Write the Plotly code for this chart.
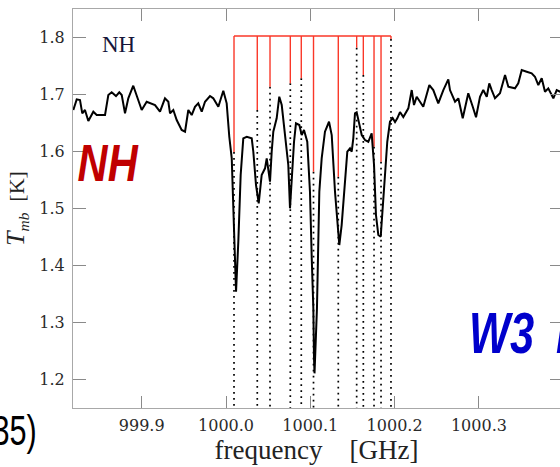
import plotly.graph_objects as go

# Observed NH absorption spectrum (main-beam temperature vs sky frequency)
freq_ghz = [
    999.8189, 999.8229, 999.8268, 999.8295, 999.8327, 999.8367, 999.8426, 999.8466,
    999.8565, 999.8604, 999.8644, 999.8695, 999.8734, 999.8763, 999.8802, 999.8841,
    999.8900, 999.8941, 999.9000, 999.9059, 999.9098, 999.9158, 999.9217, 999.9276,
    999.9316, 999.9336, 999.9375, 999.9415, 999.9474, 999.9514, 999.9553, 999.9593,
    999.9632, 999.9671, 999.9712, 999.9751, 999.9810, 999.9849, 999.9909, 999.9968,
    1000.0008, 1000.0039, 1000.0068, 1000.0087, 1000.0095, 1000.0119, 1000.0146, 1000.0174,
    1000.0205, 1000.0246, 1000.0305, 1000.0324, 1000.0356, 1000.0388, 1000.0423, 1000.0463,
    1000.0483, 1000.0522, 1000.0542, 1000.0561, 1000.0601, 1000.0632, 1000.0661, 1000.0700,
    1000.0739, 1000.0759, 1000.0779, 1000.0807, 1000.0830, 1000.0870, 1000.0898, 1000.0925,
    1000.0964, 1000.0996, 1000.1017, 1000.1036, 1000.1044, 1000.1050, 1000.1079, 1000.1091,
    1000.1107, 1000.1135, 1000.1174, 1000.1222, 1000.1254, 1000.1293, 1000.1332, 1000.1344,
    1000.1372, 1000.1412, 1000.1439, 1000.1471, 1000.1491, 1000.1510, 1000.1530, 1000.1550,
    1000.1581, 1000.1610, 1000.1649, 1000.1688, 1000.1728, 1000.1756, 1000.1779, 1000.1807,
    1000.1835, 1000.1859, 1000.1886, 1000.1913, 1000.1945, 1000.1977, 1000.2005, 1000.2032,
    1000.2064, 1000.2103, 1000.2163, 1000.2203, 1000.2230, 1000.2262, 1000.2340, 1000.2412,
    1000.2459, 1000.2518, 1000.2578, 1000.2637, 1000.2657, 1000.2717, 1000.2756, 1000.2808,
    1000.2874, 1000.2927, 1000.2966, 1000.3013, 1000.3052, 1000.3093, 1000.3123, 1000.3152,
    1000.3191, 1000.3250, 1000.3310, 1000.3349, 1000.3428, 1000.3467, 1000.3508, 1000.3567,
    1000.3626, 1000.3665, 1000.3705, 1000.3745, 1000.3784, 1000.3823, 1000.3883, 1000.3923,
    1000.3962, 1000.4000,
]
t_mb_k = [
    1.6732, 1.6919, 1.6907, 1.6674, 1.6732, 1.6539, 1.6702, 1.6644,
    1.6644, 1.6995, 1.7042, 1.6977, 1.7042, 1.6995, 1.6674, 1.6937,
    1.7158, 1.6995, 1.6732, 1.6877, 1.6849, 1.6819, 1.6702, 1.6937,
    1.6877, 1.6674, 1.6732, 1.6556, 1.6381, 1.6351, 1.6732, 1.6644,
    1.6789, 1.6849, 1.6702, 1.6877, 1.6977, 1.6937, 1.6789, 1.7070,
    1.6849, 1.6263, 1.5884, 1.5007, 1.4421, 1.3544, 1.4421, 1.5591,
    1.6235, 1.6263, 1.6235, 1.6000, 1.5416, 1.5095, 1.5591, 1.5709,
    1.5884, 1.5474, 1.6000, 1.6351, 1.6586, 1.6965, 1.6819, 1.6293,
    1.5767, 1.5007, 1.5533, 1.6175, 1.6498, 1.6468, 1.6293, 1.6381,
    1.6175, 1.5298, 1.4130, 1.3253, 1.2375, 1.2112, 1.3253, 1.4130,
    1.5298, 1.5884, 1.6351, 1.6526, 1.6293, 1.5298, 1.4596, 1.4363,
    1.4714, 1.5591, 1.6000, 1.6060, 1.6000, 1.6235, 1.6674, 1.6691,
    1.6468, 1.6293, 1.6205, 1.6175, 1.6323, 1.5767, 1.4890, 1.4539,
    1.4509, 1.4947, 1.5591, 1.6175, 1.6526, 1.6591, 1.6521, 1.6586,
    1.6696, 1.6609, 1.6761, 1.7082, 1.6819, 1.6965, 1.6789, 1.7170,
    1.7082, 1.6849, 1.7082, 1.7270, 1.7082, 1.6877, 1.6937, 1.6586,
    1.7025, 1.6789, 1.6604, 1.6965, 1.7082, 1.6965, 1.7200, 1.7082,
    1.6937, 1.7025, 1.7346, 1.7140, 1.7112, 1.7200, 1.7433, 1.7404,
    1.7375, 1.7316, 1.7170, 1.7288, 1.7053, 1.7112, 1.6937, 1.7082,
    1.7053, 1.7060,
]

# Hyperfine components: line frequencies and the level each stick reaches
hfs_freq_ghz = [
    1000.0095, 1000.0371, 1000.0522, 1000.0763, 1000.0893, 1000.1038,
    1000.1332, 1000.1550, 1000.1629, 1000.1756, 1000.1839, 1000.1957,
]
hfs_level_k = [
    1.5995, 1.6732, 1.7140, 1.7200, 1.7288, 1.5649,
    1.5561, 1.7825, 1.7346, 1.6088, 1.5825, 1.7977,
]
hfs_top_k = 1.803

x_range = [999.8185, 1000.3962]
y_range = [1.1504, 1.8504]
x_ticks = [999.9, 1000.0, 1000.1, 1000.2, 1000.3]
x_tick_text = ["999.9", "1000.0", "1000.1", "1000.2", "1000.3"]
y_ticks = [1.2, 1.3, 1.4, 1.5, 1.6, 1.7, 1.8]
y_tick_text = ["1.2", "1.3", "1.4", "1.5", "1.6", "1.7", "1.8"]

RED = "rgb(250,55,40)"
AXIS_GREY = "#a8a8a8"
SERIF = "DejaVu Serif, serif"
TITLE_SERIF = "Liberation Serif, Times New Roman, serif"
SANS = "Liberation Sans, Arial, sans-serif"

fig = go.Figure()

# dotted guides from each stick down to the bottom axis
dot_x, dot_y = [], []
for f, lv in zip(hfs_freq_ghz, hfs_level_k):
    dot_x += [f, f, None]
    dot_y += [lv, y_range[0], None]
fig.add_trace(go.Scatter(
    x=dot_x, y=dot_y, mode="lines",
    line=dict(color="black", width=1.7, dash="1.7px,4.3px"),
    hoverinfo="skip", showlegend=False,
))

# stick spectrum: horizontal bar plus one drop per component
stick_x = [hfs_freq_ghz[0], hfs_freq_ghz[-1], None]
stick_y = [hfs_top_k, hfs_top_k, None]
for f, lv in zip(hfs_freq_ghz, hfs_level_k):
    stick_x += [f, f, None]
    stick_y += [hfs_top_k, lv, None]
fig.add_trace(go.Scatter(
    x=stick_x, y=stick_y, mode="lines",
    line=dict(color=RED, width=1.4),
    hoverinfo="skip", showlegend=False,
))

# observed spectrum
fig.add_trace(go.Scatter(
    x=freq_ghz, y=t_mb_k, mode="lines",
    line=dict(color="black", width=2),
    showlegend=False,
))

# carrier trace for the right-hand tick axis
fig.add_trace(go.Scatter(
    x=[freq_ghz[0]], y=[t_mb_k[0]], yaxis="y2", mode="markers",
    marker=dict(opacity=0), hoverinfo="skip", showlegend=False,
))

fig.update_layout(
    width=560, height=467,
    margin=dict(l=73, r=0, t=9, b=59, pad=0),
    paper_bgcolor="white", plot_bgcolor="white",
    xaxis=dict(
        range=x_range, tickvals=x_ticks, ticktext=x_tick_text,
        ticks="inside", ticklen=12, tickwidth=1.2, tickcolor="#8a8a8a",
        showline=True, linecolor=AXIS_GREY, linewidth=1.2, mirror="ticks",
        showgrid=False, zeroline=False,
        tickfont=dict(family=SERIF, size=16, color="#2a2a2a"),
        ticklabelstandoff=3,
        title=dict(text="frequency\u00a0\u00a0\u00a0\u00a0[GHz]",
                   font=dict(family=TITLE_SERIF, size=27, color="#222"),
                   standoff=4),
    ),
    yaxis=dict(
        range=y_range, tickvals=y_ticks, ticktext=y_tick_text,
        ticks="inside", ticklen=13, tickwidth=1.2, tickcolor="#8a8a8a",
        showline=True, linecolor=AXIS_GREY, linewidth=1.2, mirror=False,
        showgrid=False, zeroline=False,
        tickfont=dict(family=SERIF, size=16, color="#2a2a2a"),
        ticklabelstandoff=4,
        title=dict(text="<span style='font-size:26px'><i>T</i></span>"
                        "<sub><i>mb</i></sub>\u00a0\u00a0[K]",
                   font=dict(family=TITLE_SERIF, size=22, color="#222"),
                   standoff=8),
    ),
    yaxis2=dict(
        range=y_range, tickvals=y_ticks, overlaying="y", side="right",
        ticks="inside", ticklen=10, tickwidth=1.2, tickcolor="#8a8a8a",
        showline=False, showgrid=False, zeroline=False, showticklabels=False,
    ),
    annotations=[
        dict(text="NH", xref="paper", yref="paper", x=0.0932, y=0.911,
             xanchor="center", yanchor="middle", showarrow=False,
             font=dict(family=TITLE_SERIF, size=23, color="#16163a")),
        dict(text="NH", xref="paper", yref="paper", x=0.0725, y=0.613,
             xanchor="center", yanchor="middle", showarrow=False,
             font=dict(family=SANS, size=52, color="#c00000",
                       weight="bold", style="italic")),
        dict(text="W3\u2002I", xref="paper", yref="paper", x=0.8084, y=0.189,
             xanchor="left", yanchor="middle", showarrow=False,
             font=dict(family=SANS, size=58, color="#0000cc",
                       weight="bold", style="italic")),
        dict(text="35)", xref="paper", yref="paper", x=-0.0698, y=-0.0576,
             xanchor="right", yanchor="middle", showarrow=False,
             font=dict(family=SANS, size=42, color="black")),
    ],
)

# the slide captions use a condensed display face: narrow them horizontally
condense_js = """
var gd = document.getElementById('{plot_id}');
var spec = {1: [0.8, 'center center'], 2: [0.75, 'left center'], 3: [0.73, 'right center']};
Object.keys(spec).forEach(function(i) {
  var t = gd.querySelector('g.annotation[data-index="' + i + '"] text.annotation-text');
  if (!t) return;
  t.style.transformBox = 'fill-box';
  t.style.transformOrigin = spec[i][1];
  t.style.transform = 'scaleX(' + spec[i][0] + ')';
});
"""

fig.write_html("out.html", post_script=condense_js)
